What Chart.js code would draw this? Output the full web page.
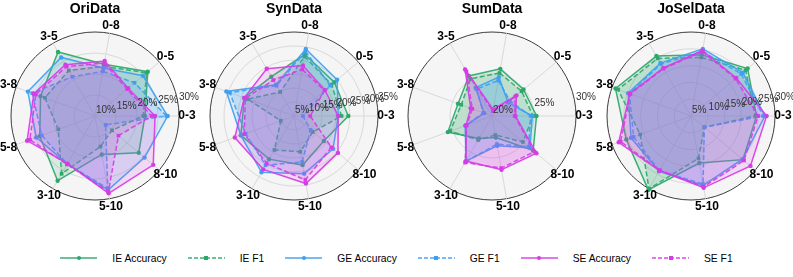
<!DOCTYPE html>
<html>
<head>
<meta charset="utf-8">
<script src="https://cdn.jsdelivr.net/npm/chart.js@4.4.1/dist/chart.umd.min.js"></script>
<style>
  body { margin: 0; background: #fff; width: 793px; height: 277px; position: relative; overflow: hidden;
         font-family: "Liberation Sans", Arial, sans-serif; }
  .panel { position: absolute; top: 0; width: 240px; height: 240px; }
  #legend { position: absolute; left: 0; top: 251px; width: 793px; height: 14px;
            display: flex; justify-content: center; align-items: center; font-size: 10.3px; color: #000; }
  .item { display: flex; align-items: center; margin-right: 21px; }
  .item:last-child { margin-right: 0; }
  .swatch { position: relative; width: 37px; height: 2px; margin-right: 15px; }
  .mark { position: absolute; top: 50%; left: 50%; transform: translate(-50%, -50%); }
</style>
</head>
<body>
<div class="panel" style="left:-25px"><canvas id="c0" width="240" height="240"></canvas></div>
<div class="panel" style="left:174px"><canvas id="c1" width="240" height="240"></canvas></div>
<div class="panel" style="left:372px"><canvas id="c2" width="240" height="240"></canvas></div>
<div class="panel" style="left:571px"><canvas id="c3" width="240" height="240"></canvas></div>
<div id="legend"></div>
<script>
// categories go clockwise from the top, as in the original polar plot
const categories = ['0-8', '0-5', '0-3', '8-10', '5-10', '3-10', '5-8', '3-8', '3-5'];
const seriesNames = ['IE Accuracy', 'IE F1', 'GE Accuracy', 'GE F1', 'SE Accuracy', 'SE F1'];
const titles = ['OriData', 'SynData', 'SumData', 'JoSelData'];

// OriData
const oriTicks = [10, 15, 20, 25, 30];
const oriIeAcc = [22.5, 26.4, 21.9, 23.6, 19.3, 27.8, 24.0, 23.8, 27.6];
const oriIeF1  = [22.0, 26.0, 21.5, 15.3, 17.4, 25.9, 19.3, 22.7, 22.5];
const oriGeAcc = [21.6, 24.9, 27.3, 25.4, 27.9, 23.2, 24.9, 27.0, 26.1];
const oriGeF1  = [20.8, 22.3, 27.0, 13.3, 27.5, 23.2, 23.5, 25.9, 20.8];
const oriSeAcc = [23.3, 20.3, 24.3, 28.1, 28.7, 23.1, 27.2, 25.5, 24.1];
const oriSeF1  = [22.8, 20.0, 23.5, 17.3, 28.3, 23.3, 26.5, 25.0, 23.6];

// SynData
const synTicks = [5, 10, 15, 20, 25, 30, 35];
const synIeAcc = [27.3, 23.8, 24.4, 18.9, 22.8, 22.8, 25.2, 23.9, 21.2];
const synIeF1  = [26.6, 22.5, 22.0, 13.8, 18.0, 19.0, 10.0, 22.6, 14.9];
const synGeAcc = [29.3, 25.1, 20.8, 23.2, 25.9, 28.2, 25.2, 30.7, 17.9];
const synGeF1  = [28.5, 21.9, 8.2, 12.8, 21.7, 25.3, 23.4, 29.4, 17.5];
const synSeAcc = [23.3, 19.4, 20.8, 25.5, 29.5, 27.0, 27.5, 23.9, 24.5];
const synSeF1  = [21.9, 19.2, 10.8, 22.4, 28.2, 24.5, 23.9, 23.5, 19.8];

// SumData
const sumTicks = [20, 25, 30];
const sumIeAcc = [25.7, 24.9, 25.3, 26.4, 22.6, 23.1, 25.6, 24.3, 25.5];
const sumIeF1  = [25.2, 24.6, 24.9, 24.8, 22.3, 23.3, 25.3, 23.9, 25.1];
const sumGeAcc = [24.7, 22.5, 24.8, 25.9, 23.6, 26.2, 23.4, 21.0, 23.9];
const sumGeF1  = [24.3, 22.8, 24.6, 25.7, 23.4, 26.3, 23.3, 21.1, 23.7];
const sumSeAcc = [20.8, 23.8, 22.8, 26.9, 26.5, 26.2, 23.3, 22.7, 26.4];
const sumSeF1  = [20.6, 23.6, 22.7, 26.6, 26.3, 26.4, 23.2, 22.5, 26.1];

// JoSelData
const joselTicks = [5, 10, 15, 20, 25, 30];
const joselIeAcc = [23.5, 27.0, 24.5, 25.2, 19.2, 30.4, 25.5, 28.9, 25.6];
const joselIeF1  = [22.7, 26.2, 24.2, 10.2, 17.8, 30.0, 21.1, 28.1, 24.8];
const joselGeAcc = [25.3, 25.1, 27.0, 25.0, 26.0, 24.0, 24.0, 24.9, 23.2];
const joselGeF1  = [24.5, 24.5, 26.5, 10.2, 25.6, 23.8, 23.2, 24.5, 22.9];
const joselSeAcc = [24.8, 22.6, 27.5, 28.1, 26.7, 23.8, 27.9, 24.4, 21.5];
const joselSeF1  = [24.5, 22.3, 25.0, 25.6, 26.4, 23.6, 27.3, 24.2, 21.3];

const GREEN = [44, 168, 106];
const BLUE = [63, 159, 240];
const MAGENTA = [214, 60, 230];
const seriesColors = [GREEN, GREEN, BLUE, BLUE, MAGENTA, MAGENTA];
const rgba = (c, a) => `rgba(${c[0]},${c[1]},${c[2]},${a})`;

Chart.defaults.font.family = '"Liberation Sans", Arial, sans-serif';

function makeDatasets(series) {
    return series.map((vals, i) => {
        const c = seriesColors[i];
        const f1 = i % 2 === 1;
        return {
            label: seriesNames[i],
            data: vals,
            borderColor: rgba(c, 0.92),
            backgroundColor: rgba(c, 0.15),
            fill: 'start',
            borderWidth: 1.5,
            borderDash: f1 ? [5, 2.5] : [],
            pointStyle: f1 ? 'rect' : 'circle',
            pointRadius: f1 ? 2.6 : 2.2,
            pointBackgroundColor: rgba(c, 1),
            pointBorderColor: rgba(c, 1),
            pointBorderWidth: 0,
            order: 5 - i
        };
    });
}

// circle background, r tick labels and category labels, placed like the matplotlib polar axes
const polarDecor = {
    id: 'polarDecor',
    beforeDraw(chart) {
        const s = chart.scales.r;
        const ctx = chart.ctx;
        ctx.save();
        ctx.beginPath();
        ctx.arc(s.xCenter, s.yCenter, s.drawingArea, 0, Math.PI * 2);
        ctx.fillStyle = '#f5f5f5';
        ctx.fill();
        ctx.restore();
    },
    afterDraw(chart) {
        const s = chart.scales.r;
        const ctx = chart.ctx;
        const ticks = chart.options.plugins.polarDecor.ticks;
        const a = 9 * Math.PI / 180;
        ctx.save();
        ctx.font = '10px "Liberation Sans", Arial, sans-serif';
        ctx.fillStyle = '#333';
        ctx.textAlign = 'left';
        ctx.textBaseline = 'bottom';
        ticks.forEach(v => {
            const d = s.getDistanceFromCenterForValue(v);
            ctx.fillText(v + '%', s.xCenter + d * Math.cos(a) + 1, s.yCenter - d * Math.sin(a) - 1);
        });
        ctx.font = 'bold 12px "Liberation Sans", Arial, sans-serif';
        ctx.fillStyle = '#000';
        ctx.textAlign = 'center';
        ctx.textBaseline = 'middle';
        chart.data.labels.forEach((lab, i) => {
            const p = s.getPointPosition(i, s.drawingArea + 8);
            ctx.fillText(lab, p.x, p.y);
        });
        ctx.restore();
    }
};

function drawPanel(id, title, ticks, series) {
    const min = ticks[0];
    const max = ticks[ticks.length - 1];
    new Chart(document.getElementById(id), {
        type: 'radar',
        data: { labels: categories, datasets: makeDatasets(series) },
        options: {
            responsive: false,
            animation: false,
            devicePixelRatio: 1,
            layout: { padding: { top: 0, left: 36, right: 36, bottom: 40 } },
            elements: { line: { tension: 0 } },
            plugins: {
                legend: { display: false },
                tooltip: { enabled: false },
                title: {
                    display: true,
                    text: title,
                    color: '#000',
                    font: { size: 14, weight: 'bold' },
                    padding: { top: 1, bottom: 14.2 }
                },
                polarDecor: { ticks: ticks }
            },
            scales: {
                r: {
                    min: min,
                    max: max,
                    startAngle: 10,
                    ticks: { display: false, stepSize: 5 },
                    pointLabels: { display: false },
                    grid: {
                        circular: true,
                        color: ctx => (ctx.tick && ctx.tick.value === max) ? '#3c3c3c' : '#d9d9d9',
                        lineWidth: 1
                    },
                    angleLines: { color: '#d9d9d9', lineWidth: 1 }
                }
            }
        },
        plugins: [polarDecor]
    });
}

drawPanel('c0', titles[0], oriTicks, [oriIeAcc, oriIeF1, oriGeAcc, oriGeF1, oriSeAcc, oriSeF1]);
drawPanel('c1', titles[1], synTicks, [synIeAcc, synIeF1, synGeAcc, synGeF1, synSeAcc, synSeF1]);
drawPanel('c2', titles[2], sumTicks, [sumIeAcc, sumIeF1, sumGeAcc, sumGeF1, sumSeAcc, sumSeF1]);
drawPanel('c3', titles[3], joselTicks, [joselIeAcc, joselIeF1, joselGeAcc, joselGeF1, joselSeAcc, joselSeF1]);

// legend row: line sample with marker, then the series name
const legend = document.getElementById('legend');
seriesNames.forEach((name, i) => {
    const c = seriesColors[i];
    const f1 = i % 2 === 1;
    const item = document.createElement('div');
    item.className = 'item';
    const sw = document.createElement('div');
    sw.className = 'swatch';
    sw.style.background = f1
        ? `repeating-linear-gradient(to right, ${rgba(c, 0.7)} 0 4px, transparent 4px 6px)`
        : rgba(c, 0.7);
    const mk = document.createElement('div');
    mk.className = 'mark';
    mk.style.width = '4px';
    mk.style.height = '4px';
    mk.style.borderRadius = f1 ? '0' : '50%';
    mk.style.background = rgba(c, 1);
    sw.appendChild(mk);
    const tx = document.createElement('span');
    tx.textContent = name;
    item.appendChild(sw);
    item.appendChild(tx);
    legend.appendChild(item);
});
</script>
</body>
</html>
